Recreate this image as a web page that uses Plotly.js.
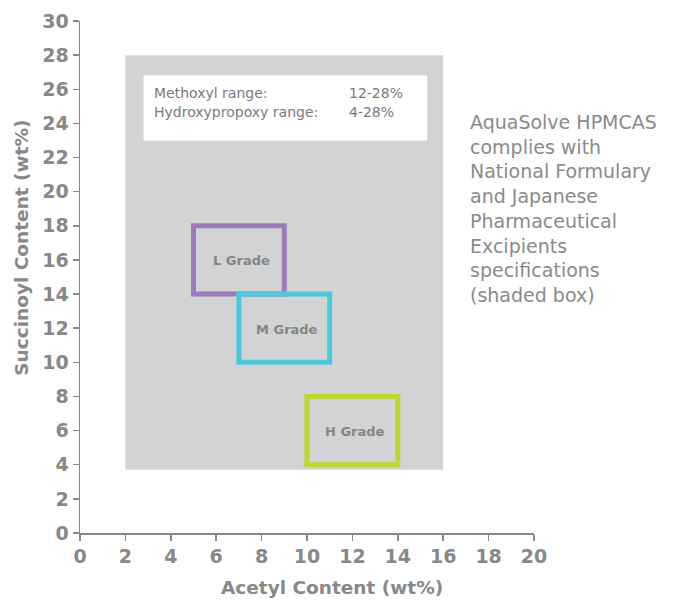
<!DOCTYPE html>
<html>
<head>
<meta charset="utf-8">
<script src="https://cdn.plot.ly/plotly-3.0.1.min.js"></script>
<style>html,body{margin:0;padding:0;background:#fff;}#chart{width:679px;height:601px;}</style>
</head>
<body>
<div id="chart"></div>
<script>
// Specification (shaded) box: acetyl and succinoyl ranges
const specAcetyl = [2, 16];
const specSuccinoyl = [3.7, 28];
// Grades
const grades = ["L Grade", "M Grade", "H Grade"];
const gradeAcetylMin = [5, 7, 10];
const gradeAcetylMax = [9, 11, 14];
const gradeSuccMin = [14, 10, 4];
const gradeSuccMax = [18, 14, 8];
const gradeColors = ["#9b7cb9", "#4fc7da", "#bdd632"];
// Info box
const infoLabels = ["Methoxyl range:", "Hydroxypropoxy range:"];
const infoValues = ["12-28%", "4-28%"];
const infoBoxX = [2.8, 15.3];
const infoBoxY = [23.0, 26.8];
const sideNote = ["AquaSolve HPMCAS", "complies with", "National Formulary", "and Japanese", "Pharmaceutical", "Excipients", "specifications", "(shaded box)"];
const xTitle = "Acetyl Content (wt%)";
const yTitle = "Succinoyl Content (wt%)";
const xTicks = [0, 2, 4, 6, 8, 10, 12, 14, 16, 18, 20];
const yTicks = [0, 2, 4, 6, 8, 10, 12, 14, 16, 18, 20, 22, 24, 26, 28, 30];

const axisGray = "#888888";
const font = "DejaVu Sans, Lato, sans-serif";

const shapes = [];
shapes.push({type: "rect", xref: "x", yref: "y", x0: specAcetyl[0], x1: specAcetyl[1], y0: specSuccinoyl[0], y1: specSuccinoyl[1],
  fillcolor: "#d2d3d5", line: {width: 0}, layer: "below"});
shapes.push({type: "rect", xref: "x", yref: "y", x0: infoBoxX[0], x1: infoBoxX[1], y0: infoBoxY[0], y1: infoBoxY[1],
  fillcolor: "#ffffff", line: {width: 0}, layer: "below"});
const annotations = [];
grades.forEach((g, i) => {
  shapes.push({type: "rect", xref: "x", yref: "y", x0: gradeAcetylMin[i], x1: gradeAcetylMax[i], y0: gradeSuccMin[i], y1: gradeSuccMax[i],
    line: {color: gradeColors[i], width: 5}, fillcolor: "rgba(0,0,0,0)"});
  annotations.push({x: (gradeAcetylMin[i] + gradeAcetylMax[i]) / 2 + 0.1, y: (gradeSuccMin[i] + gradeSuccMax[i]) / 2 - 0.05,
    xref: "x", yref: "y", text: "<b>" + g + "</b>", showarrow: false,
    font: {family: font, size: 13, color: "#858585"}});
});
infoLabels.forEach((t, i) => {
  annotations.push({x: 3.15, y: 25.8 - i * 1.15, xref: "x", yref: "y", text: t, showarrow: false, xanchor: "left",
    font: {family: font, size: 14, color: "#7a7a7a"}});
  annotations.push({x: 11.75, y: 25.8 - i * 1.15, xref: "x", yref: "y", text: infoValues[i], showarrow: false, xanchor: "left",
    font: {family: font, size: 14, color: "#7a7a7a"}});
});
annotations.push({x: 0.855, y: 0.828, xref: "paper", yref: "paper", xanchor: "left", yanchor: "top", align: "left",
  text: sideNote.join("<br>"), showarrow: false,
  font: {family: font, size: 19, color: "#8a8a8a"}});
// axis titles
annotations.push({x: 0.555, y: -0.107, xref: "paper", yref: "paper", xanchor: "center", yanchor: "middle",
  text: "<b>" + xTitle + "</b>", showarrow: false, font: {family: font, size: 18.5, color: axisGray}});
annotations.push({x: -0.128, y: 0.557, xref: "paper", yref: "paper", xanchor: "center", yanchor: "middle", textangle: -90,
  text: "<b>" + yTitle + "</b>", showarrow: false, font: {family: font, size: 18.5, color: axisGray}});

const trace = {x: [], y: [], type: "scatter", mode: "markers", showlegend: false, hoverinfo: "skip"};

const layout = {
  width: 679, height: 601,
  margin: {l: 80, r: 145, t: 21, b: 68},
  paper_bgcolor: "#fff", plot_bgcolor: "#fff",
  showlegend: false,
  xaxis: {range: [0, 20], tickvals: xTicks, ticktext: xTicks.map(v => "<b>" + v + "</b>"),
    showgrid: false, zeroline: false, showline: true, linecolor: axisGray, linewidth: 1.5,
    ticks: "outside", ticklen: 6, tickcolor: axisGray, tickwidth: 1.5,
    tickfont: {family: font, size: 19, color: axisGray}},
  yaxis: {range: [0, 30], tickvals: yTicks, ticktext: yTicks.map(v => "<b>" + v + "</b>"),
    showgrid: false, zeroline: false, showline: true, linecolor: axisGray, linewidth: 1.5,
    ticks: "outside", ticklen: 6, tickcolor: axisGray, tickwidth: 1.5,
    tickfont: {family: font, size: 19, color: axisGray}},
  shapes: shapes,
  annotations: annotations
};
Plotly.newPlot("chart", [trace], layout, {displayModeBar: false, staticPlot: true});
</script>
</body>
</html>
